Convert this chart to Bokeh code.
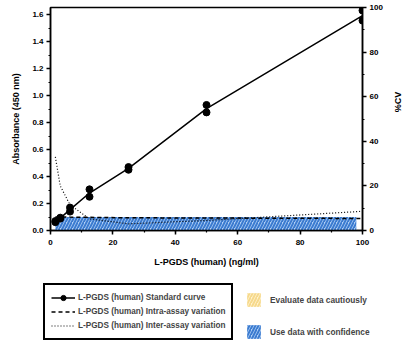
import math
from bokeh.plotting import figure
from bokeh.models import (Range1d, LinearAxis, Legend, LegendItem, FixedTicker,
                          PrintfTickFormatter)
from bokeh.layouts import column, row
from bokeh.embed import file_html
from bokeh.resources import INLINE

# ---- data ----
conc = [1.56, 3.125, 6.25, 12.5, 25, 50, 100]
abs_rep1 = [0.062, 0.088, 0.14, 0.25, 0.45, 0.875, 1.555]
abs_rep2 = [0.070, 0.095, 0.17, 0.305, 0.47, 0.93, 1.63]
abs_mean = [(a + b) / 2 for a, b in zip(abs_rep1, abs_rep2)]
intra_cv = [6.0, 6.1, 6.0, 5.9, 5.7, 5.6, 5.4]
inter_cv = [33.0, 20.0, 11.5, 5.2, 3.0, 4.5, 8.6]
confidence_x = [1.56, 98.0]
confidence_top = 0.1
x_ticks = [0, 20, 40, 60, 80, 100]
y_ticks = [0.0, 0.2, 0.4, 0.6, 0.8, 1.0, 1.2, 1.4, 1.6]
cv_ticks = [0, 20, 40, 60, 80, 100]
legend_labels = ["L-PGDS (human) Standard curve",
                 "L-PGDS (human) Intra-assay variation",
                 "L-PGDS (human) Inter-assay variation"]
zone_labels = ["Evaluate data cautiously", "Use data with confidence"]

FONT = "Liberation Sans"
BLUE_FILL, BLUE_HATCH = "#b3d1f5", "#3b7bd0"
YEL_FILL, YEL_HATCH = "#fff3d2", "#f6d98c"
NAN = [math.nan]

# ---------- main chart ----------
p = figure(width=386, height=280, output_backend="svg", toolbar_location=None,
           x_range=Range1d(0, 100), y_range=Range1d(0, 1.652),
           min_border_left=50, min_border_right=24, min_border_top=7, min_border_bottom=50)
p.extra_y_ranges = {"cv": Range1d(0, 100)}
p.xgrid.visible = False
p.ygrid.visible = False
p.outline_line_color = "black"
p.outline_line_width = 1.5

p.quad(left=[confidence_x[0]], right=[confidence_x[1]], bottom=[0], top=[confidence_top],
       fill_color=BLUE_FILL, line_color=None,
       hatch_pattern="/", hatch_color=BLUE_HATCH, hatch_scale=6, hatch_weight=2)

p.line(conc, intra_cv, y_range_name="cv", line_color="black", line_width=1.5, line_dash="4 3")
p.line(conc, inter_cv, y_range_name="cv", line_color="black", line_width=1.2, line_dash="1 2")
p.line(conc, abs_mean, line_color="black", line_width=1.5)
p.scatter(conc * 2, abs_rep1 + abs_rep2, size=7, color="black")


def style(ax):
    ax.axis_line_width = 1.5
    ax.major_tick_line_width = 1.5
    ax.minor_tick_line_width = 1.2
    ax.major_tick_out = 4
    ax.major_tick_in = 0
    ax.minor_tick_out = 2
    ax.minor_tick_in = 0
    ax.major_label_standoff = 3
    ax.major_label_text_font = FONT
    ax.major_label_text_font_style = "bold"
    ax.major_label_text_font_size = "8px"
    ax.major_label_text_color = "black"
    ax.axis_label_text_font = FONT
    ax.axis_label_text_font_style = "bold"
    ax.axis_label_text_font_size = "9px"
    ax.axis_label_text_color = "black"


p.xaxis.ticker = FixedTicker(ticks=x_ticks, minor_ticks=list(range(0, 101, 10)))
p.yaxis.ticker = FixedTicker(ticks=y_ticks, minor_ticks=[i / 10 for i in range(0, 17)])
p.yaxis.formatter = PrintfTickFormatter(format="%.1f")
p.xaxis.axis_label = "L-PGDS (human) (ng/ml)"
p.yaxis.axis_label = "Absorbance (450 nm)"
style(p.xaxis[0])
style(p.yaxis[0])
p.xaxis.major_label_standoff = 5
p.xaxis.axis_label_standoff = 9
p.yaxis.axis_label_standoff = 8

rax = LinearAxis(y_range_name="cv",
                 ticker=FixedTicker(ticks=cv_ticks, minor_ticks=list(range(0, 101, 10))))
style(rax)
p.add_layout(rax, "right")

# ---------- right label strip ----------
r = figure(width=23, height=280, output_backend="svg", toolbar_location=None,
           x_range=Range1d(0, 23), y_range=Range1d(0, 280),
           min_border=0, x_axis_type=None, y_axis_type=None)
r.outline_line_color = None
r.grid.visible = False
r.text(x=[11], y=[161.5], text=["%CV"], angle=math.pi / 2, text_align="center",
       text_baseline="middle", text_font_size="9px", text_font_style="bold",
       text_font={"value": FONT}, text_color="black")

# ---------- legend strip ----------
q = figure(width=409, height=71, output_backend="svg", toolbar_location=None,
           x_range=Range1d(0, 409), y_range=Range1d(0, 71),
           min_border=0, x_axis_type=None, y_axis_type=None)
q.outline_line_color = None
q.grid.visible = False
l_curve = q.line(NAN, NAN, line_color="black", line_width=1.5)
l_pts = q.scatter(NAN, NAN, size=7, color="black")
l_intra = q.line(NAN, NAN, line_color="black", line_width=1.5, line_dash="4 3")
l_inter = q.line(NAN, NAN, line_color="black", line_width=1.2, line_dash="1 2")
z_caution = q.quad(left=NAN, right=NAN, bottom=NAN, top=NAN, fill_color=YEL_FILL, line_color=None,
                   hatch_pattern="/", hatch_color=YEL_HATCH, hatch_scale=6, hatch_weight=2)
z_conf = q.quad(left=NAN, right=NAN, bottom=NAN, top=NAN, fill_color=BLUE_FILL, line_color=None,
                hatch_pattern="/", hatch_color=BLUE_HATCH, hatch_scale=6, hatch_weight=2)

leg1 = Legend(items=[
    LegendItem(label=legend_labels[0], renderers=[l_curve, l_pts]),
    LegendItem(label=legend_labels[1], renderers=[l_intra]),
    LegendItem(label=legend_labels[2], renderers=[l_inter]),
], location=(43, 11), glyph_width=24, glyph_height=13, label_height=13, spacing=1,
    padding=6, margin=0, label_standoff=3, border_line_color="black", border_line_width=2,
    border_line_alpha=1,
    label_text_font=FONT, label_text_font_style="bold", label_text_font_size="8.2px")
leg2 = Legend(items=[
    LegendItem(label=zone_labels[0], renderers=[z_caution]),
    LegendItem(label=zone_labels[1], renderers=[z_conf]),
], location=(245, 11), glyph_width=17, glyph_height=17, label_height=17, spacing=15,
    padding=0, margin=0, label_standoff=8, border_line_alpha=0, background_fill_alpha=0,
    label_text_font=FONT, label_text_font_style="bold", label_text_font_size="8.3px")
q.add_layout(leg1, "center")
q.add_layout(leg2, "center")

layout = column(row(p, r, spacing=0), q, spacing=0)
open("out.html", "w").write(file_html(layout, INLINE))
